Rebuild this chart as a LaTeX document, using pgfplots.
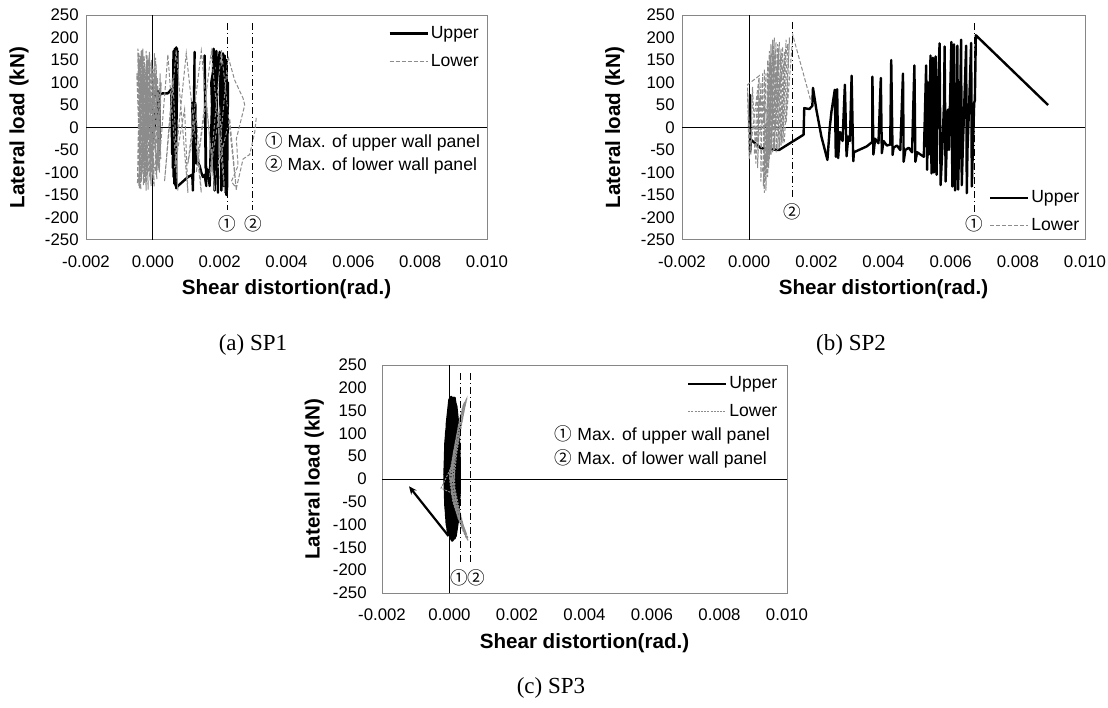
\documentclass[border=0pt]{standalone}
\usepackage{pgfplots}
\pgfplotsset{compat=1.18}
\usepackage{fontspec}
\setmainfont{Liberation Sans}
\newfontfamily\timesfont{Liberation Serif}
\newfontfamily\cjk{Noto Sans CJK KR}
\usetikzlibrary{arrows.meta}
\definecolor{framegray}{RGB}{134,134,134}
\definecolor{lowgray}{RGB}{140,140,140}

\pgfplotsset{
 panel/.style={
  scale only axis,
  xmin=-2, xmax=10, ymin=-250, ymax=250,
  xtick={-2,0,2,4,6,8,10},
  xticklabels={-0.002,0.000,0.002,0.004,0.006,0.008,0.010},
  ytick={-250,-200,-150,-100,-50,0,50,100,150,200,250},
  yticklabels={-250,-200,-150,-100,-50,0,50,100,150,200,250},
  major tick length=0pt,
  axis line style={framegray, line width=0.5pt},
  tick label style={font=\fontsize{8.4}{10}\selectfont},
  xticklabel style={anchor=center, yshift=-11pt},
  yticklabel style={anchor=east, inner sep=0pt, xshift=-3.5pt},
  extra x ticks={0}, extra y ticks={0},
  extra x tick labels={}, extra y tick labels={},
  extra tick style={grid=major, major grid style={black, line width=0.5pt}},
  xlabel={Shear distortion(rad.)},
  ylabel={Lateral load (kN)},
  label style={font=\fontsize{10.3}{12}\selectfont\bfseries},
  xlabel style={at={(axis description cs:0.5,-0.218)}, anchor=center},
  ylabel style={at={(axis description cs:-0.167,0.5)}, anchor=center},
  legend style={draw=none, fill=none, font=\fontsize{8.8}{10}\selectfont,
    anchor=north west, inner sep=0pt, row sep=3.5pt,
    nodes={inner sep=1pt, text height=6.5pt, text depth=1.9pt}},
  legend cell align=left,
  legend image code/.code={\draw[#1] (0pt,0pt) -- (19pt,0pt);},
 },
 upper/.style={black, line width=1.2pt, line join=round, no marks},
 lower/.style={lowgray, line width=0.5pt, dash pattern=on 2pt off 1pt, no marks},
 lowerdot/.style={lowgray, line width=0.5pt, dash pattern=on 1pt off 0.6pt, no marks},
 maxline/.style={black, line width=0.5pt, dash pattern=on 3.5pt off 1.5pt on 0.5pt off 1.5pt, no marks, forget plot},
}

\begin{document}
\begin{tikzpicture}
\path[use as bounding box] (0,0) rectangle (554pt,-353.5pt);

% ---------------- (a) SP1 ----------------
\begin{axis}[panel, at={(43pt,-7.5pt)}, anchor=north west, width=200.5pt, height=112.5pt,
  legend style={at={(0.753,0.965)}}]
\addplot[upper] coordinates {
(0,0) (0.05,25) (-0.02,-15) (0.08,40) (0.0,-30) (0.15,60) (0.2,-50) (0.2,80) (0.08,80) (0.08,70)
(0.3,76) (0.45,76) (0.5,80) (0.55,85) (0.58,-60) (0.62,170) (0.6,-90) (0.66,175) (0.62,-110)
(0.7,178) (0.64,-125) (0.72,176) (0.68,-130) (0.74,170) (0.66,-100) (0.7,150) (0.7,-135) (0.72,-132) (1.05,-110)
(1.18,-105) (1.2,-140) (1.25,168) (1.22,-100) (1.18,55) (1.27,55) (1.3,-80) (1.35,-78) (1.4,-85)
(1.45,-100) (1.5,-110) (1.55,-105) (1.6,-130) (1.55,160) (1.58,-90) (1.65,-95) (1.7,-130)
(1.82,175) (1.85,-140) (1.75,100) (1.9,170) (1.95,-145) (1.85,60) (2.0,168) (2.05,-140)
(2.1,165) (2.12,-130) (2.05,120) (2.15,160) (2.18,-145) (2.2,150) (2.2,-150) (2.25,100) (2.22,-140)
};
\addlegendentry{Upper}
\addplot[lower] coordinates {
(0,0) (-0.45,175) (-0.4,-135) (-0.35,170) (-0.42,-130) (-0.3,165) (-0.25,-125) (-0.33,172)
(-0.2,-140) (-0.15,160) (-0.22,-120) (-0.1,168) (-0.05,-130) (-0.12,150) (0,-110) (0.05,165)
(-0.02,-100) (0.1,140) (0.15,-95) (0.08,155) (0.2,-90) (0.22,120) (0.12,-80) (0.25,100)
(0.18,-60) (-0.38,160) (-0.28,-128) (-0.18,150) (-0.08,-118) (-0.42,140) (-0.32,-100)
(-0.27,130) (0.02,-125) (-0.05,145) (0.1,-105) (-0.48,120) (-0.36,-138)
(-0.44,165) (-0.34,-120) (-0.3,175) (-0.2,-130) (-0.26,160) (-0.14,-138) (-0.2,170)
(-0.06,-125) (-0.1,155) (0.04,-132) (-0.04,150) (0.12,-115) (0.0,130) (0.2,-100) (0.06,120)
(0.24,-70) (0.14,110) (-0.46,-125) (-0.4,150) (-0.24,-110) (-0.36,130) (-0.16,-105)
(-0.24,140) (-0.1,-90) (-0.18,120) (0.0,-80) (-0.12,110) (0.1,-60) (-0.38,100) (-0.3,-90)
(-0.28,120) (-0.08,-70) (0.16,80) (0.22,-40) (0.05,60) (0.18,-90)
(0.45,162) (0.75,-140) (0.6,110) (0.35,-120) (0.7,172) (1.05,-145) (0.95,40) (0.65,-90) (1.0,165)
(1.45,-145) (1.3,30) (1.05,-80) (1.45,170) (1.85,-140) (1.6,60) (1.3,-100) (1.75,168)
(2.15,-145) (2.0,40) (1.7,-110) (2.05,172) (2.5,-140) (2.3,20) (1.95,-90) (2.25,158)
(2.45,105) (2.7,65) (2.75,50) (2.5,-25) (2.55,-85) (2.35,-120) (2.5,-135) (2.7,-70)
(2.9,-60) (3.05,-10) (3.1,25)
};
\addlegendentry{Lower}
\addplot[maxline] coordinates {(2.24,232) (2.24,-183)};
\addplot[maxline] coordinates {(2.99,232) (2.99,-183)};
\node[font=\fontsize{8.8}{10}\selectfont] at (axis cs:2.24,-214) {\cjk ①};
\node[font=\fontsize{8.8}{10}\selectfont] at (axis cs:3.02,-214) {\cjk ②};
\node[font=\fontsize{8.8}{10}\selectfont, anchor=west, inner sep=0pt] at (axis description cs:0.4456,0.437) {{\cjk ①} Max. of upper wall panel};
\node[font=\fontsize{8.8}{10}\selectfont, anchor=west, inner sep=0pt] at (axis description cs:0.4456,0.333) {{\cjk ②} Max. of lower wall panel};
\end{axis}

% ---------------- (b) SP2 ----------------
\begin{axis}[panel, at={(341pt,-7.5pt)}, anchor=north west, width=201.5pt, height=112.5pt,
  legend style={at={(0.7605,0.234)}}]
\addplot[upper] coordinates {
(0,0) (0.03,72) (0.03,-55) (0.05,-27) (0.35,-46) (0.89,-50) (1.62,-16) (1.64,43) (1.79,41)
(1.88,48) (1.9,88) (2.0,40) (2.15,-20) (2.33,-72) (2.4,0) (2.45,35) (2.55,84) (2.58,-65)
(2.62,85) (2.65,-68) (2.7,-10) (2.78,-30) (2.85,95) (2.9,-64) (2.95,-20) (3.0,-30) (3.05,115)
(3.1,-75) (3.12,-55) (3.5,-42) (3.67,-32) (3.67,113) (3.7,-60) (3.75,-25) (3.85,-35) (3.92,110)
(3.95,-57) (4.0,-30) (4.1,-40) (4.2,-38) (4.23,150) (4.27,-61) (4.3,-45) (4.4,-40) (4.5,-50)
(4.58,120) (4.6,-76) (4.65,-50) (4.75,-45) (4.85,-55) (4.92,138) (4.95,-76) (5.0,-55) (5.1,-60)
(5.2,-65) (5.27,138) (5.3,-94) (5.33,100) (5.35,-60) (5.4,160) (5.43,-102) (5.47,155) (5.5,-100)
(5.55,158) (5.58,-105) (5.62,80) (5.67,187) (5.7,-128) (5.75,-50) (5.8,50) (5.82,180) (5.85,-120)
(5.88,-45) (5.92,40) (5.95,-50) (6.02,190) (6.05,-131) (6.08,45) (6.1,185) (6.13,-140)
(6.16,-50) (6.18,40) (6.2,182) (6.22,-138) (6.25,-45) (6.28,50) (6.31,195) (6.33,-128)
(6.36,-50) (6.4,40) (6.46,182) (6.48,-146) (6.5,-50) (6.55,50) (6.61,188) (6.63,-131)
(6.66,-50) (6.7,55) (6.72,60) (6.75,205) (8.9,50)
};
\addlegendentry{Upper}
\addplot[lower] coordinates {
(0,0) (-0.05,95) (0.3,115) (0.0,-70) (-0.05,80) (0.05,-60) (0.1,90) (0.2,-80) (0.3,110)
(0.25,-90) (0.35,100) (0.35,-120) (0.4,120) (0.45,-145) (0.45,130) (0.5,-140) (0.55,150)
(0.5,-130) (0.6,170) (0.55,-110) (0.65,185) (0.58,-90) (0.7,195) (0.6,-70) (0.75,200)
(0.65,-60) (0.8,190) (0.7,-55) (0.85,185) (0.75,-50) (0.9,190) (0.8,-55) (0.95,175)
(0.85,-50) (1.0,180) (0.9,-45) (1.05,170) (0.95,-40) (1.1,195) (1.0,-35) (1.15,185)
(0.4,-100) (0.5,120) (0.42,-130) (0.62,160) (0.48,-120) (0.72,180) (0.52,-90) (0.78,170)
(0.62,-60) (0.88,175) (0.72,-50) (0.98,165) (0.2,-40) (0.35,80) (0.15,-60) (0.25,70)
(1.05,-30) (1.2,200) (1.1,10) (1.3,205) (1.85,55)
};
\addlegendentry{Lower}
\addplot[maxline] coordinates {(1.29,235) (1.29,-160)};
\addplot[maxline] coordinates {(6.7,232) (6.7,-191)};
\node[font=\fontsize{8.8}{10}\selectfont] at (axis cs:1.29,-188) {\cjk ②};
\node[font=\fontsize{8.8}{10}\selectfont] at (axis cs:6.7,-215) {\cjk ①};
\end{axis}

% ---------------- (c) SP3 ----------------
\begin{axis}[panel, at={(191pt,-182.5pt)}, anchor=north west, width=202.5pt, height=114pt,
  yticklabel style={xshift=-4pt},
  legend style={at={(0.752,0.965)}}]
\addplot[upper] coordinates {
(0,0) (-0.1,60) (-0.05,130) (0.05,170) (0.15,178) (0.2,150) (0.25,100) (0.28,30) (0.27,-40)
(0.22,-100) (0.15,-130) (0.05,-125) (-0.08,-100) (-0.13,-40) (-0.14,20) (-0.1,90) (0.0,150)
(0.08,175) (0.18,165) (0.22,120) (0.2,60) (0.25,-20) (0.2,-90) (0.12,-128) (0.0,-120)
(-0.1,-80) (-0.15,0) (-0.12,80) (-0.05,140) (0.1,172) (0.2,160) (0.27,110) (0.3,40)
(0.3,-30) (0.25,-90) (0.18,-125) (0.08,-135) (-0.05,-115) (-0.12,-60) (-0.15,10) (-0.1,100)
(-0.02,155) (0.05,180) (0.12,170) (0.15,120) (0.22,40) (0.28,20) (0.25,-60) (0.15,-110)
(0.05,-130) (-0.05,-105) (-0.1,-30) (-0.12,50) (-0.06,120) (0.02,165) (0.1,175) (0.16,140)
(0.2,80) (0.24,0) (0.22,-70) (0.16,-120) (0.06,-128)
(0.0,-60) (0.05,0) (0.08,80) (0.05,150) (0.0,120) (-0.05,40) (-0.05,-50) (0.05,-115)
(0.12,-60) (0.15,20) (0.1,100) (0.03,160) (-0.02,100) (0.0,20) (0.08,-80) (0.14,-125)
(0.18,-50) (0.12,50) (0.06,130) (0.0,175) (-0.08,120) (-0.1,30) (-0.05,-70) (0.05,-128)
(0.1,-90) (0.08,-20) (0.1,60) (0.02,140) (-0.07,90) (-0.08,0) (0.0,-90) (0.1,-132)
(0.2,-110) (0.18,-30) (0.15,60) (0.08,150) (0.12,178) (0.04,110) (0.02,30) (0.1,-40) (-0.03,-122)
};
\addlegendentry{Upper}
\addplot[lowerdot] coordinates {
(0,0) (0.1,50) (0.25,110) (0.4,160) (0.5,175) (0.35,120) (0.15,50) (0.05,-10) (0.15,-60)
(0.35,-100) (0.55,-135) (0.4,-110) (0.2,-60) (0.05,0) (0.12,50) (0.28,120) (0.45,170)
(0.3,130) (0.12,60) (0.0,0) (0.1,-50) (0.3,-95) (0.5,-130) (0.35,-105) (0.15,-55) (0.02,-5)
(0.15,70) (0.32,140) (0.42,165) (0.25,100) (0.08,30) (-0.25,-20) (0.05,-30) (0.25,-85)
(0.48,-125) (0.3,-90) (0.1,-40) (0.0,10) (0.2,90) (0.38,150) (0.52,178)
(0.35,125) (0.2,70) (0.08,10) (0.12,-40) (0.28,-80) (0.45,-115) (0.52,-132) (0.38,-95)
(0.18,-45) (0.08,20) (0.18,80) (0.3,125) (0.44,160) (0.32,110) (0.18,55) (0.1,0) (0.2,-50)
(0.35,-90) (0.5,-120) (0.4,-100) (0.22,-55) (0.12,-10) (0.22,60) (0.36,120) (0.48,168)
(0.38,140) (0.25,90) (0.14,30) (0.16,-20) (0.3,-70) (0.42,-105) (0.55,-130)
};
\addlegendentry{Lower}
\addplot[black, line width=1.1pt, no marks, forget plot, -{Stealth[length=4pt,width=3.5pt]}]
  coordinates {(-0.03,-125) (-1.2,-16)};
\addplot[maxline] coordinates {(0.32,232) (0.32,-184)};
\addplot[maxline] coordinates {(0.61,232) (0.61,-184)};
\node[font=\fontsize{8.8}{10}\selectfont] at (axis cs:0.3,-216) {\cjk ①};
\node[font=\fontsize{8.8}{10}\selectfont] at (axis cs:0.8,-216) {\cjk ②};
\node[font=\fontsize{8.8}{10}\selectfont, anchor=west, inner sep=0pt] at (axis description cs:0.426,0.693) {{\cjk ①} Max. of upper wall panel};
\node[font=\fontsize{8.8}{10}\selectfont, anchor=west, inner sep=0pt] at (axis description cs:0.426,0.588) {{\cjk ②} Max. of lower wall panel};
\end{axis}

\node[font=\fontsize{11.5}{13}\timesfont] at (126.5pt,-172.5pt) {(a) SP1};
\node[font=\fontsize{11.5}{13}\timesfont] at (425.5pt,-172.5pt) {(b) SP2};
\node[font=\fontsize{11.5}{13}\timesfont] at (275.5pt,-344pt) {(c) SP3};
\end{tikzpicture}
\end{document}
